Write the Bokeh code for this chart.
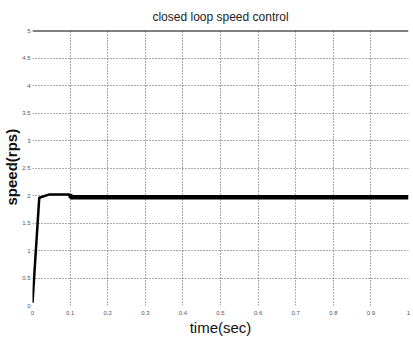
from bokeh.plotting import figure
from bokeh.models import Span, FixedTicker, Range1d, Title
from bokeh.embed import file_html
from bokeh.resources import INLINE

# data
t_rise = [0.0, 0.018, 0.045, 0.1]
speed_rise = [0.05, 1.96, 2.02, 2.02]
t_steady = [0.1, 0.102, 1.0]
speed_steady = [2.02, 1.97, 1.97]

x_ticks = [0, 0.1, 0.2, 0.3, 0.4, 0.5, 0.6, 0.7, 0.8, 0.9, 1]
y_ticks = [0, 0.5, 1, 1.5, 2, 2.5, 3, 3.5, 4, 4.5, 5]

FONT = "Liberation Sans"

p = figure(width=413, height=338, output_backend="svg", toolbar_location=None,
           x_range=Range1d(0, 1), y_range=Range1d(0, 5),
           min_border_left=0, min_border_right=5, min_border_top=10, min_border_bottom=0)

p.title.text = "closed loop speed control"
p.title.align = "center"
p.title.text_font = FONT
p.title.text_font_size = "12px"
p.title.text_font_style = "normal"
p.title.text_color = "#222222"
p.title.standoff = 14

p.line(t_rise, speed_rise, line_color="black", line_width=2.5)
p.line(t_steady, speed_steady, line_color="black", line_width=4.5)

p.add_layout(Span(location=5, dimension="width", line_color="black", line_width=2))

p.outline_line_color = None
for ax in (p.xaxis, p.yaxis):
    ax.axis_line_color = None
    ax.major_tick_line_color = None
    ax.minor_tick_line_color = None
    ax.major_tick_out = 0
    ax.major_tick_in = 0
    ax.minor_tick_out = 0
    ax.minor_tick_in = 0
    ax.major_label_text_font = FONT
    ax.major_label_text_font_size = "6px"
    ax.major_label_text_color = "#555555"
    ax.axis_label_text_font = FONT
    ax.axis_label_text_font_style = "normal"
    ax.axis_label_text_color = "#111111"

p.xaxis.ticker = FixedTicker(ticks=x_ticks)
p.yaxis.ticker = FixedTicker(ticks=y_ticks)
p.xaxis.major_label_standoff = 5
p.yaxis.major_label_standoff = 2
p.xaxis.axis_label = "time(sec)"
p.xaxis.axis_label_text_font_size = "15px"
p.xaxis.axis_label_standoff = 1

ytitle = Title(text="speed(rps)", align="left", text_font=FONT, text_font_size="15px",
               text_font_style="bold", text_color="#111111", standoff=0, offset=100)
p.add_layout(ytitle, "left")

for g in (p.xgrid, p.ygrid):
    g.grid_line_color = "#555555"
    g.grid_line_dash = "1 2"
    g.grid_line_width = 1

open("out.html", "w").write(file_html(p, INLINE))
